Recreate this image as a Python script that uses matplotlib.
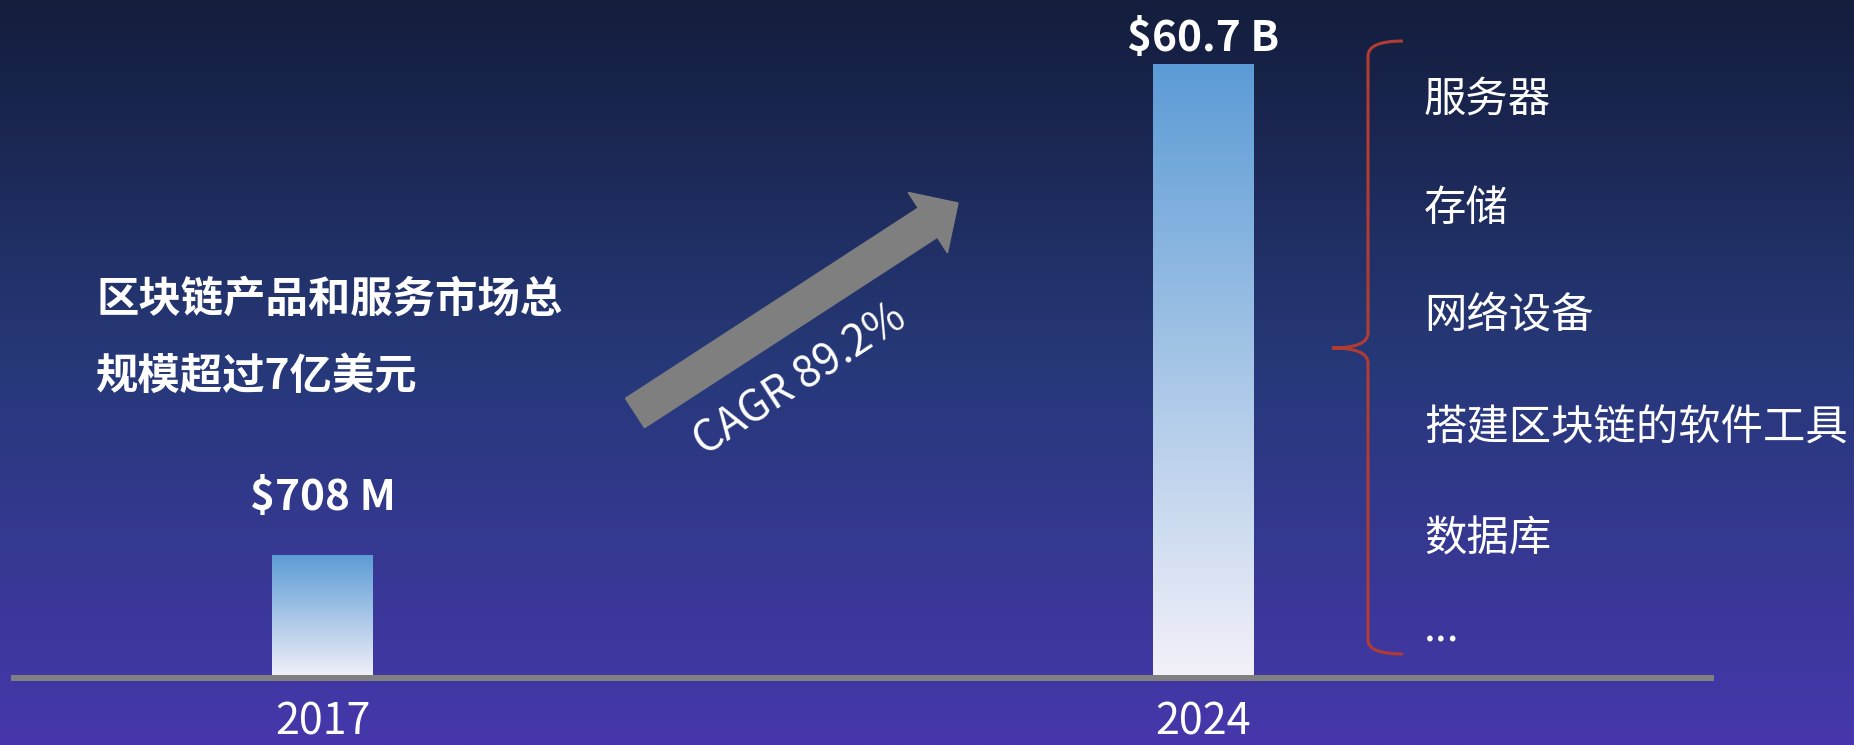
import numpy as np
import matplotlib
matplotlib.use('Agg')
import matplotlib.pyplot as plt
from matplotlib.colors import LinearSegmentedColormap
from matplotlib.path import Path
from matplotlib.patches import PathPatch, FancyArrow

plt.rcParams['font.family'] = ['Noto Sans CJK SC', 'DejaVu Sans']

years = ['2017', '2024']
market_musd = [708, 60700]  # market size, million USD
value_labels = ['$708 M', '$60.7 B']
headline = ['区块链产品和服务市场总', '规模超过7亿美元']
cagr_text = 'CAGR 89.2%'
components = ['服务器', '存储', '网络设备', '搭建区块链的软件工具', '数据库', '...']

W, H = 1854, 745
fig = plt.figure(figsize=(W / 100, H / 100), dpi=100)


def px(xp, yp):
    # pixel position (from top-left) -> inches for dpi_scale_trans
    return (xp / 100, (H - yp) / 100)


# background gradient
bg = fig.add_axes([0, 0, 1, 1])
bg_cmap = LinearSegmentedColormap.from_list('bg', ['#141d3c', '#27397a', '#4637ac'])
bg.imshow(np.linspace(0, 1, 256)[:, None], cmap=bg_cmap, aspect='auto', extent=[0, 1, 0, 1])
bg.axis('off')

# bar axes, bottom spine is the grey base line
ax = fig.add_axes([14 / W, 67 / H, (1711 - 14) / W, (H - 67) / H])
ax.set_facecolor('none')
ax.set_yscale('log')
base = 232
ax.set_xlim(-0.3502, 1.576)
ax.set_ylim(base, 1.084e5)
ax.set_autoscale_on(False)

x = np.arange(len(years))
bars = ax.bar(x, np.array(market_musd) - base, bottom=base, width=0.1146, color='none')

bar_cmap = LinearSegmentedColormap.from_list('bar', ['#5b9bd5', '#f3f1f9'])
to_axes = ax.transScale + ax.transLimits
for rect in bars:
    (ax0, ay0), (ax1, ay1) = to_axes.transform([[rect.get_x(), rect.get_y()],
                                                [rect.get_x() + rect.get_width(), rect.get_y() + rect.get_height()]])
    img = ax.imshow(np.linspace(0, 1, 256)[:, None], cmap=bar_cmap, aspect='auto',
                    extent=[ax0, ax1, ay0, ay1], transform=ax.transAxes, zorder=2)
    img.set_clip_path(rect)

# value labels above bars
label_offsets = [41, 18]
for xi, val, lab, off in zip(x, market_musd, value_labels, label_offsets):
    ax.annotate(lab, (xi, val), xytext=(0, off), textcoords='offset points',
                ha='center', va='center', fontsize=30.5, fontweight='bold', color='white')

ax.set_xticks(x, years, fontsize=31, color='white')
ax.tick_params(axis='x', length=0, pad=16)
ax.yaxis.set_visible(False)
for s in ['top', 'left', 'right']:
    ax.spines[s].set_visible(False)
ax.spines['bottom'].set_color('#808080')
ax.spines['bottom'].set_linewidth(4.3)
ax.spines['bottom'].set_zorder(3)

# headline text
for i, line in enumerate(headline):
    fig.text(96 / W, 1 - (300 + 77 * i) / H, line, fontsize=30.5, fontweight='bold',
             color='white', ha='left', va='center')

# growth arrow
arrow = FancyArrow(6.35, 3.32, 3.23, 2.10, width=0.35, head_width=0.72, head_length=0.36,
                   length_includes_head=True, color='#7f7f7f', transform=fig.dpi_scale_trans)
fig.add_artist(arrow)
fig.text(800 / W, 1 - 380 / H, cagr_text, rotation=33, rotation_mode='anchor',
         ha='center', va='center', fontsize=31, color='white')

# curly brace
verts = [px(1403, 41), px(1368, 41), px(1368, 56), px(1368, 333), px(1368, 348), px(1332, 348),
         px(1368, 348), px(1368, 363), px(1368, 640), px(1368, 654), px(1403, 654)]
codes = [Path.MOVETO, Path.CURVE3, Path.CURVE3, Path.LINETO, Path.CURVE3, Path.CURVE3,
         Path.CURVE3, Path.CURVE3, Path.LINETO, Path.CURVE3, Path.CURVE3]
fig.add_artist(PathPatch(Path(verts, codes), fill=False, edgecolor='#b03c33', lw=2.2,
                         transform=fig.dpi_scale_trans))

# component list
item_y = [100, 209, 316, 428, 539, 629]
for item, yp in zip(components, item_y):
    fig.text(1424 / W, 1 - yp / H, item, fontsize=30.5, color='white',
             ha='left', va='center')

fig.savefig('out.png', dpi=100)
